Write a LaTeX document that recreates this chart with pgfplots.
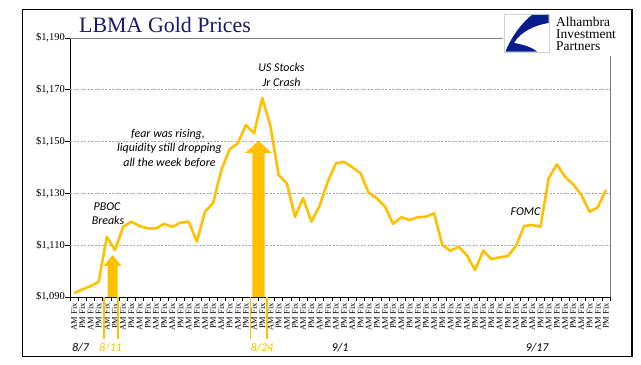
\documentclass[border=0pt]{standalone}
\usepackage{fontspec}
\setmainfont{Liberation Serif}
\newfontfamily\carlito{Carlito}
\usepackage{pgfplots}
\pgfplotsset{compat=1.18}
\definecolor{gold}{RGB}{255,192,0}
\definecolor{navy}{RGB}{25,25,112}
\definecolor{logoblue}{RGB}{8,28,140}
\begin{document}
\begin{tikzpicture}[x=1bp,y=1bp]
\fill[white] (0,0) rectangle (641,364);
\begin{axis}[
  at={(70bp,67bp)}, anchor=south west,
  scale only axis, width=540bp, height=259bp,
  xmin=-0.5, xmax=65.5, ymin=1090, ymax=1190,
  clip=false,
  axis x line*=bottom, axis y line*=left,
  axis line style={black, line width=0.8bp, -},
  tick align=outside,
  xtick={0,...,65},
  major x tick style={draw=none},
  minor xtick={-0.5,0.5,...,65.5},
  minor tick length=3.5bp,
  minor x tick style={black, line width=0.6bp},
  xticklabels={AM Fix,PM Fix,AM Fix,PM Fix,AM Fix,PM Fix,AM Fix,PM Fix,AM Fix,PM Fix,AM Fix,PM Fix,AM Fix,PM Fix,AM Fix,PM Fix,AM Fix,PM Fix,AM Fix,PM Fix,AM Fix,PM Fix,AM Fix,PM Fix,AM Fix,PM Fix,AM Fix,PM Fix,AM Fix,PM Fix,AM Fix,PM Fix,AM Fix,PM Fix,AM Fix,PM Fix,AM Fix,PM Fix,AM Fix,PM Fix,AM Fix,PM Fix,AM Fix,PM Fix,AM Fix,PM Fix,AM Fix,PM Fix,AM Fix,PM Fix,AM Fix,PM Fix,AM Fix,PM Fix,AM Fix,PM Fix,AM Fix,PM Fix,AM Fix,PM Fix,AM Fix,PM Fix,AM Fix,PM Fix,AM Fix,PM Fix},
  xticklabel style={rotate=90, anchor=east, inner sep=0pt, xshift=-1bp, font=\fontsize{8.5}{9}\selectfont},
  ytick={1090,1110,1130,1150,1170,1190},
  yticklabels={{\$1,090},{\$1,110},{\$1,130},{\$1,150},{\$1,170},{\$1,190}},
  major tick length=5bp,
  ytick style={black, line width=0.6bp},
  yticklabel style={anchor=east, inner sep=0pt, font=\fontsize{10.5}{12}\selectfont},
]
% grid lines
\draw[gray!70, line width=0.6bp, dash pattern=on 2bp off 1.5bp] (axis cs:-0.5,1110) -- (axis cs:65.5,1110);
\draw[gray!70, line width=0.6bp, dash pattern=on 2bp off 1.5bp] (axis cs:-0.5,1130) -- (axis cs:65.5,1130);
\draw[gray!70, line width=0.6bp, dash pattern=on 2bp off 1.5bp] (axis cs:-0.5,1150) -- (axis cs:65.5,1150);
\draw[gray!70, line width=0.6bp, dash pattern=on 2bp off 1.5bp] (axis cs:-0.5,1170) -- (axis cs:65.5,1170);
\draw[gray, line width=0.8bp] (axis cs:-0.5,1190) -- (axis cs:65.5,1190);
\draw[gray, line width=0.8bp] (axis cs:65.5,1090) -- (axis cs:65.5,1190);
% arrows
\fill[gold] (axis cs:4.09,1090) -- (axis cs:4.09,1102) -- (axis cs:3.60,1102) -- (axis cs:4.70,1106.2) -- (axis cs:5.80,1102) -- (axis cs:5.31,1102) -- (axis cs:5.31,1090) -- cycle;
\fill[gold] (axis cs:21.78,1090) -- (axis cs:21.78,1145.6) -- (axis cs:20.91,1145.6) -- (axis cs:22.54,1150.3) -- (axis cs:24.17,1145.6) -- (axis cs:23.30,1145.6) -- (axis cs:23.30,1090) -- cycle;
% vertical date markers
\draw[gold, line width=1.5bp] (axis cs:3.66,1090) -- (axis cs:3.66,1073.8);
\draw[gold, line width=1.5bp] (axis cs:5.37,1090) -- (axis cs:5.37,1073.8);
\draw[gold, line width=1.5bp] (axis cs:21.59,1090) -- (axis cs:21.59,1073.8);
\draw[gold, line width=1.5bp] (axis cs:23.55,1090) -- (axis cs:23.55,1073.8);
\addplot[gold, line width=2.6bp, line join=round, mark=none] coordinates {
(0,1091.5) (1,1092.9) (2,1094.2) (3,1095.8) (4,1113.2) (5,1108.1) (6,1117.1) (7,1119.1)
(8,1117.4) (9,1116.5) (10,1116.5) (11,1118.2) (12,1117.1) (13,1118.7) (14,1119.1) (15,1111.4)
(16,1122.9) (17,1126.4) (18,1139.0) (19,1147.0) (20,1149.3) (21,1156.4) (22,1153.2) (23,1166.8)
(24,1156.0) (25,1137.1) (26,1133.9) (27,1120.9) (28,1128.2) (29,1119.1) (30,1125.1) (31,1134.5)
(32,1141.6) (33,1142.2) (34,1140.1) (35,1137.8) (36,1130.3) (37,1128.1) (38,1124.9) (39,1118.2)
(40,1120.8) (41,1119.7) (42,1120.8) (43,1121.0) (44,1122.3) (45,1110.1) (46,1107.8) (47,1109.4)
(48,1106.2) (49,1100.4) (50,1107.9) (51,1104.6) (52,1105.3) (53,1105.8) (54,1109.7) (55,1117.4)
(56,1117.8) (57,1117.1) (58,1135.8) (59,1141.2) (60,1136.4) (61,1133.5) (62,1129.4) (63,1122.9)
(64,1124.6) (65,1131.3)
};
\end{axis}
% title
\node[anchor=base west, inner sep=0pt, text=navy, font=\fontsize{22}{26}\selectfont] at (79,332) {LBMA Gold Prices};
% annotations
\begin{scope}[every node/.style={anchor=base, inner sep=0pt, font=\carlito\itshape\fontsize{12}{13}\selectfont}]
\node at (281.5,292.3) {US Stocks};
\node at (281.5,277.3) {Jr Crash};
\node at (168,227) {fear was rising,};
\node at (169.5,212.5) {liquidity still dropping};
\node at (169.5,198) {all the week before};
\node at (107,154) {PBOC};
\node at (108,139.7) {Breaks};
\node at (525.5,149) {FOMC};
\end{scope}
% date labels
\begin{scope}[every node/.style={anchor=base, inner sep=0pt, font=\carlito\itshape\fontsize{12}{13}\selectfont}]
\node at (80.5,12.3) {8/7};
\node[text=gold] at (110.5,12.3) {8/11};
\node[text=gold] at (262,12.3) {8/24};
\node at (340,12.3) {9/1};
\node at (537,12.3) {9/17};
\end{scope}
% logo
\fill[white] (503,308) rectangle (631,355);
\draw[gray!35, fill=white, line width=0.8bp] (504.3,311.7) rectangle (549,349.7);
\fill[logoblue] (548.5,349) -- (532,349) .. controls (520,340) and (510,324) .. (505.5,312.5) -- (537,312.5) .. controls (530,318) and (520,320) .. (514,321) .. controls (520,332) and (535,339) .. (548.5,341) -- cycle;
\node[anchor=north west, inner sep=0pt, align=left, font=\fontsize{13.5}{12.2}\selectfont] at (556,347.2) {Alhambra\\Investment\\Partners};
% outer border
\draw[black, line width=1.2bp] (22.5,7.3) rectangle (632,354.5);
\end{tikzpicture}
\end{document}
